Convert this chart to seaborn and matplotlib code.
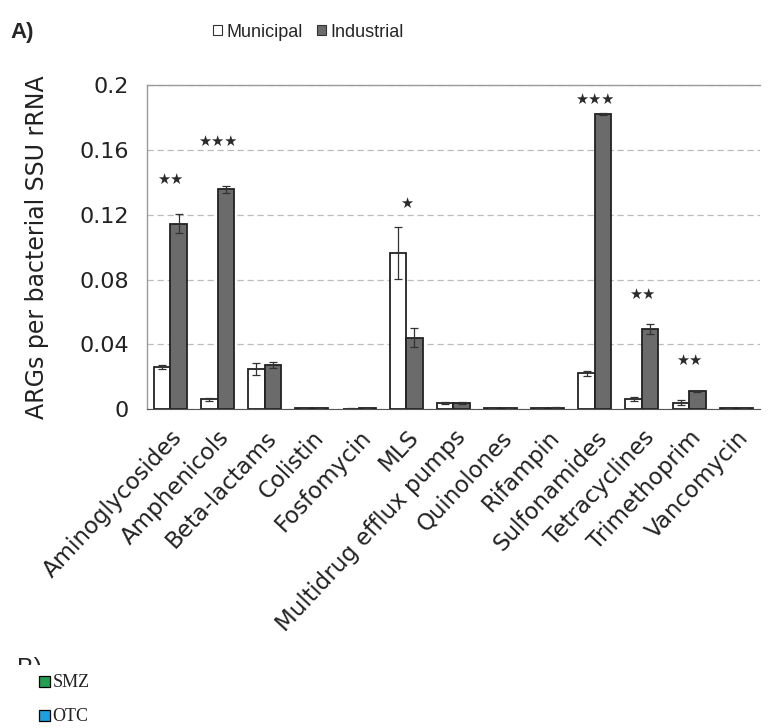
import matplotlib
matplotlib.use("Agg")
import matplotlib.pyplot as plt
import numpy as np
import pandas as pd
import seaborn as sns
from matplotlib.patches import Rectangle

categories = ["Aminoglycosides", "Amphenicols", "Beta-lactams", "Colistin", "Fosfomycin",
              "MLS", "Multidrug efflux pumps", "Quinolones", "Rifampin", "Sulfonamides",
              "Tetracyclines", "Trimethoprim", "Vancomycin"]
municipal = [0.026, 0.006, 0.0247, 0.0004, 0.0003, 0.0963, 0.0037, 0.0007, 0.0005,
             0.0222, 0.0062, 0.004, 0.0007]
municipal_err = [0.0012, 0.001, 0.0036, 0.0001, 0.0001, 0.016, 0.0005, 0.0001, 0.0001,
                 0.0015, 0.0012, 0.0015, 0.0001]
industrial = [0.1144, 0.1356, 0.0272, 0.0006, 0.0006, 0.0442, 0.0037, 0.0008, 0.001,
              0.1823, 0.0494, 0.011, 0.0008]
industrial_err = [0.0058, 0.0024, 0.0017, 0.0001, 0.0001, 0.0058, 0.0005, 0.0001, 0.0001,
                  0.0008, 0.003, 0.0004, 0.0001]
stars = {"Aminoglycosides": ("★★", 0.142), "Amphenicols": ("★★★", 0.165), "MLS": ("★", 0.127),
         "Sulfonamides": ("★★★", 0.191), "Tetracyclines": ("★★", 0.071),
         "Trimethoprim": ("★★", 0.030)}
yticks = [0, 0.04, 0.08, 0.12, 0.16, 0.2]
ytick_labels = ["0", "0.04", "0.08", "0.12", "0.16", "0.2"]

sns.set_style("white")
plt.rcParams["font.family"] = ["DejaVu Sans"]

df = pd.DataFrame({
    "category": categories * 2,
    "value": municipal + industrial,
    "site": ["Municipal"] * len(categories) + ["Industrial"] * len(categories),
})

fig = plt.figure(figsize=(7.69, 7.28), dpi=100)
ax = fig.add_axes([0.191, 0.438, 0.797, 0.445])

sns.barplot(data=df, x="category", y="value", hue="site", order=categories,
            hue_order=["Municipal", "Industrial"],
            palette={"Municipal": "white", "Industrial": "#6b6b6b"},
            edgecolor="#222222", linewidth=1.3, width=0.7, errorbar=None,
            legend=False, ax=ax)

for cont, errs in zip(ax.containers, [municipal_err, industrial_err]):
    xs = [p.get_x() + p.get_width() / 2 for p in cont.patches]
    hs = [p.get_height() for p in cont.patches]
    ax.errorbar(xs, hs, yerr=errs, fmt="none", ecolor="#333333", elinewidth=0.9,
                capsize=3, capthick=0.9)

for i, cat in enumerate(categories):
    if cat in stars:
        s, y = stars[cat]
        ax.text(i, y, s, ha="center", va="center", fontsize=10.5, color="#2a2a2a")

ax.set_ylim(0, 0.2)
ax.set_xlim(-0.5, len(categories) - 0.5)
ax.set_yticks(yticks)
ax.set_yticklabels(ytick_labels, fontsize=16, color="#222222")
ax.yaxis.grid(True, linestyle=(0, (5, 3)), color="#bbbbbb", linewidth=0.9)
ax.set_axisbelow(True)

ax.set_xticks(range(len(categories)))
ax.set_xticklabels(categories, rotation=47, ha="right", rotation_mode="anchor",
                   fontsize=16.5, color="#222222")
ax.tick_params(axis="x", which="major", length=0, pad=12)
ax.set_xticks(np.arange(0.5, len(categories) - 0.5, 1), minor=True)
ax.tick_params(axis="x", which="minor", length=5, width=0.8, color="#888888", direction="out")
ax.tick_params(axis="y", length=3, width=0.8, color="#999999", pad=10)
ax.set_xlabel("")
ax.set_ylabel("ARGs per bacterial SSU rRNA", fontsize=17, color="#222222", labelpad=22)

for side in ["left", "top"]:
    ax.spines[side].set_color("#999999")
    ax.spines[side].set_linewidth(1.0)
ax.spines["bottom"].set_color("#555555")
ax.spines["right"].set_visible(False)

# legend at top
handles = [Rectangle((0, 0), 1, 1, facecolor="white", edgecolor="#333333", linewidth=0.8),
           Rectangle((0, 0), 1, 1, facecolor="#6b6b6b", edgecolor="#333333", linewidth=0.8)]
fig.legend(handles, ["Municipal", "Industrial"], loc="center", bbox_to_anchor=(0.401, 0.956),
           ncol=2, frameon=False, handlelength=0.5, handleheight=0.5,
           handletextpad=0.25, columnspacing=0.8,
           prop={"family": ["Liberation Sans Narrow", "Liberation Sans"], "size": 13})

fig.text(0.013, 0.955, "A)", fontsize=16, fontweight="bold", va="center", ha="left",
         family=["Liberation Sans Narrow", "Liberation Sans"])

# cut-off fragment of the next panel
fig.text(0.022, 0.0975, "B)", fontsize=18, va="top", ha="left",
         family=["Liberation Sans", "DejaVu Sans"])
fig.patches.append(Rectangle((0.0, 0.0), 0.2, 0.0865, transform=fig.transFigure,
                             facecolor="white", edgecolor="none", zorder=5))
fig.patches.append(Rectangle((0.0507, 0.0563), 0.0143, 0.0151, transform=fig.transFigure,
                             facecolor="#22a050", edgecolor="black", linewidth=0.9, zorder=6))
fig.text(0.068, 0.062, "SMZ", fontsize=13, family="Liberation Serif", va="center",
         color="#222222", zorder=7)
fig.patches.append(Rectangle((0.0507, 0.0096), 0.0143, 0.0151, transform=fig.transFigure,
                             facecolor="#1ea0e0", edgecolor="black", linewidth=0.9, zorder=6))
fig.text(0.068, 0.016, "OTC", fontsize=13, family="Liberation Serif", va="center",
         color="#222222", zorder=7)

fig.savefig("out.png", dpi=100)
